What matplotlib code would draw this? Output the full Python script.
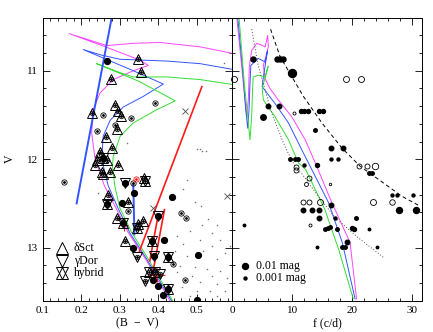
import matplotlib.pyplot as plt
from matplotlib.ticker import MultipleLocator

plt.rcParams["font.family"] = ["Liberation Serif", "DejaVu Serif"]
plt.rcParams["font.size"] = 8

# ---- left panel: colour-magnitude diagram ----
dsct_bv = [0.347, 0.355, 0.277, 0.288, 0.229, 0.296, 0.303, 0.292, 0.264, 0.279, 0.249, 0.266,
           0.242, 0.296, 0.236, 0.253, 0.257, 0.275, 0.363, 0.270, 0.322, 0.292, 0.361, 0.348, 0.314]
dsct_v = [10.87, 11.01, 11.09, 11.39, 11.48, 11.46, 11.51, 11.66, 11.75, 11.87, 11.92, 12.01,
          12.01, 12.07, 12.06, 12.14, 12.17, 12.15, 12.21, 12.40, 12.48, 12.66, 12.70, 12.73, 12.93]

gdor_bv = [0.314, 0.400, 0.344, 0.390, 0.366, 0.405]
gdor_v = [12.27, 12.64, 13.11, 13.09, 13.38, 13.30]
gdor_filled = [True, True, False, True, False, False]

hyb_bv = [0.256, 0.366, 0.266, 0.309, 0.383, 0.426, 0.377, 0.392, 0.426, 0.345]
hyb_v = [11.99, 12.25, 12.51, 12.72, 12.93, 13.11, 13.28, 13.28, 13.47, 12.78]
hyb_filled = [True, False, True, True, True, True, False, False, True, False]

filled_bv = [0.268, 0.337, 0.435, 0.305, 0.335, 0.415, 0.502, 0.387, 0.400, 0.411, 0.500]
filled_v = [10.89, 12.38, 12.43, 12.50, 13.00, 12.91, 13.08, 13.37, 13.43, 13.53, 13.59]

dotc_bv = [0.392, 0.257, 0.328, 0.288, 0.240, 0.156, 0.335, 0.322, 0.458, 0.471, 0.438, 0.470]
dotc_v = [11.37, 11.50, 11.53, 11.61, 11.68, 12.26, 12.27, 12.59, 12.61, 12.67, 13.18, 13.37]

red_bv = [0.342]
red_v = [12.22]

cross_bv = [0.470, 0.385, 0.578]
cross_v = [11.45, 12.55, 12.42]

field_bv = [0.507, 0.524, 0.474, 0.463, 0.496, 0.510, 0.530, 0.513, 0.552, 0.483, 0.539, 0.448,
            0.509, 0.561, 0.465, 0.539, 0.587, 0.444, 0.517, 0.574, 0.474, 0.552, 0.457, 0.496,
            0.526, 0.561, 0.448, 0.487, 0.539, 0.578, 0.509, 0.552, 0.461, 0.500, 0.535, 0.574,
            0.483, 0.552, 0.318, 0.513, 0.500, 0.571, 0.244]
field_v = [11.89, 11.91, 12.24, 12.34, 12.48, 12.53, 12.68, 12.74, 12.74, 12.81, 12.83, 12.87,
           12.91, 12.91, 12.96, 12.98, 12.98, 13.04, 13.04, 13.06, 13.09, 13.13, 13.21, 13.22,
           13.24, 13.26, 13.28, 13.32, 13.32, 13.34, 13.39, 13.41, 13.45, 13.49, 13.49, 13.49,
           13.55, 13.55, 11.82, 11.91, 11.89, 10.91, 12.38]

# isochrones (B-V, V)
iso_m_bv = [0.430, 0.370, 0.322, 0.290, 0.260, 0.236, 0.227, 0.231, 0.249, 0.283, 0.335, 0.374,
            0.353, 0.266, 0.169, 0.266, 0.335, 0.405, 0.509, 0.600]
iso_m_v = [13.60, 13.15, 12.83, 12.55, 12.30, 12.00, 11.70, 11.44, 11.25, 11.10, 11.00, 10.94,
           10.88, 10.735, 10.58, 10.715, 10.69, 10.68, 10.73, 10.81]
iso_b_bv = [0.434, 0.370, 0.327, 0.295, 0.270, 0.253, 0.257, 0.275, 0.309, 0.361, 0.413, 0.330,
            0.270, 0.205, 0.250, 0.300, 0.422, 0.509, 0.600]
iso_b_v = [13.60, 13.13, 12.84, 12.55, 12.30, 12.00, 11.74, 11.56, 11.41, 11.29, 11.15, 10.99,
           10.88, 10.76, 10.82, 10.87, 10.89, 10.92, 10.99]
iso_g_bv = [0.437, 0.370, 0.331, 0.300, 0.287, 0.281, 0.283, 0.301, 0.335, 0.396, 0.444, 0.350,
            0.240, 0.300, 0.335, 0.422, 0.509, 0.600]
iso_g_v = [13.60, 13.10, 12.83, 12.55, 12.30, 12.08, 11.97, 11.74, 11.59, 11.44, 11.34, 11.12,
           10.92, 11.02, 11.07, 11.07, 11.10, 11.16]

# instability strip edges
edge_blue_bv = [0.279, 0.188]
edge_blue_v = [10.40, 12.50]
edge_blue2_bv = [0.335, 0.338]
edge_blue2_v = [12.29, 12.85]
edge_red_bv = [0.513, 0.351]
edge_red_v = [11.18, 13.04]
edge_red2_bv = [0.416, 0.385]
edge_red2_v = [12.57, 13.30]
edge_red3_bv = [0.400, 0.378]
edge_red3_v = [12.62, 13.15]

# error crosses (red)
err_bv = [0.310, 0.396]
err_v = [12.74, 13.31]
err_x = [0.012, 0.022]
err_y = [0.07, 0.08]

# ---- right panel: frequency vs V ----
ff_f = [3.5, 7.43, 8.0, 8.55, 9.95, 5.9, 7.87, 5.1, 11.5, 12.06, 12.6, 14.57, 15.14, 13.85,
        16.53, 18.6, 9.67, 10.5, 11.06, 16.5, 17.75, 12.0, 14.24, 22.9, 23.45, 26.8, 27.6, 30.3,
        27.9, 30.7, 16.53, 11.9, 13.3, 14.57, 14.52, 17.2, 20.7, 15.5, 16.0, 16.4, 17.5, 20.0,
        20.4, 22.9, 14.1, 18.4, 18.9, 19.2, 24.2, 1.96]
ff_v = [10.87, 10.87, 10.87, 10.87, 11.03, 11.40, 11.40, 11.52, 11.46, 11.46, 11.46, 11.46, 11.46,
        11.67, 11.87, 11.87, 12.00, 12.00, 12.00, 12.00, 12.00, 12.07, 12.07, 12.16, 12.16, 12.40,
        12.40, 12.40, 12.57, 12.57, 12.52, 12.57, 12.57, 12.57, 12.67, 12.66, 12.67, 12.79, 12.78,
        12.77, 12.79, 12.78, 12.79, 12.79, 12.99, 12.99, 12.99, 12.94, 12.99, 12.74]
ff_amp = [5.5, 5.5, 5.5, 5.5, 26, 3.9, 3.9, 7.5, 2.6, 2.6, 2.6, 2.6, 2.6, 1.7, 3.9, 3.9, 1.7, 1.7,
          1.7, 1.0, 1.0, 1.0, 2.6, 1.7, 1.7, 1.0, 1.0, 1.0, 10, 10, 3.9, 3.9, 3.9, 3.9, 3.9, 1.0,
          1.7, 1.7, 1.7, 1.7, 1.7, 2.6, 2.6, 0.54, 0.54, 1.7, 1.7, 3.9, 0.54, 0.54]  # mmag

fo_f = [0.3, 19.0, 21.5, 10.34, 10.67, 10.67, 21.2, 22.5, 23.9, 12.3, 12.85, 16.37, 11.9, 12.85,
        14.7, 23.6, 26.7, 13.0]
fo_v = [11.09, 11.09, 11.09, 11.48, 12.09, 12.12, 12.08, 12.08, 12.08, 12.28, 12.21, 12.28, 12.48,
        12.48, 12.48, 12.48, 12.48, 12.74]
fo_amp = [10, 10, 10, 1.0, 5.5, 5.5, 5.5, 5.5, 13, 2.6, 5.5, 0.54, 5.5, 5.5, 10, 10, 7.5, 1.0]

fr_m_f = [0.74, 1.57, 2.13, 2.41, 2.68, 2.85, 3.24, 4.1, 4.92, 5.5, 5.93, 6.03, 5.2, 5.48, 6.3, 7.7,
          9.95, 12.2, 14.0, 16.65, 19.7, 20.8]
fr_m_v = [10.39, 10.95, 11.33, 11.50, 11.33, 10.95, 10.77, 10.69, 10.71, 10.73, 10.60, 10.73, 10.94,
          11.09, 11.20, 11.33, 11.52, 11.78, 12.06, 12.49, 12.94, 13.58]
fr_b_f = [0.9, 1.68, 2.24, 2.58, 2.8, 2.96, 3.1, 4.35, 5.5, 5.9, 5.2, 5.0, 6.0, 7.15, 9.4, 11.6,
          13.4, 16.1, 18.4, 20.55]
fr_b_v = [10.39, 10.95, 11.44, 11.65, 11.44, 11.14, 10.94, 10.86, 10.90, 10.77, 11.07, 11.18, 11.27,
          11.37, 11.59, 11.89, 12.13, 12.49, 12.94, 13.58]
fr_g_f = [1.12, 2.0, 2.58, 2.96, 3.24, 3.41, 3.5, 4.35, 5.5, 6.0, 5.0, 5.2, 7.15, 9.4, 11.05, 12.3,
          15.5, 17.8, 20.25]
fr_g_v = [10.39, 11.14, 11.52, 11.78, 11.52, 11.18, 11.07, 11.05, 11.07, 10.95, 11.20, 11.33, 11.52,
          11.78, 12.04, 12.12, 12.57, 13.02, 13.58]

dash_f = [6.4, 8.0, 11.9, 15.0, 18.3, 21.4, 24.5, 28.4, 31.4]
dash_v = [10.53, 10.84, 11.29, 11.59, 11.87, 12.08, 12.23, 12.42, 12.53]
dot_f = [3.25, 4.36, 6.6, 8.83, 10.8, 11.6, 14.4, 17.2, 21.1, 25.3]
dot_v = [10.53, 10.95, 11.48, 11.86, 12.12, 12.16, 12.42, 12.66, 12.89, 13.11]

MAG = "#ff44ff"
BLU = "#3355ff"
GRN = "#33dd33"
RED = "#ff1a1a"


def amp_to_ms(a):
    return 3.0 * a ** 0.3 / 1.389


def dotted_circle(ax, x, y, ms=3.8, color="k"):
    ax.plot(x, y, "o", ms=ms, mfc="none", mec=color, mew=0.6, ls="none")
    ax.plot(x, y, "o", ms=1.0, mfc=color, mec=color, ls="none")


def style(ax):
    ax.tick_params(which="both", direction="in", top=True, right=True, labelsize=8)
    ax.tick_params(which="major", length=5, width=0.6)
    ax.tick_params(which="minor", length=2.5, width=0.6)
    for s in ax.spines.values():
        s.set_linewidth(0.7)


fig = plt.figure(figsize=(4.33, 3.32), dpi=100)
ax1 = fig.add_axes([0.0986, 0.0943, 0.4379, 0.8524])
ax2 = fig.add_axes([0.5365, 0.0943, 0.4388, 0.8524])

# left panel
ax1.plot(field_bv, field_v, "o", ms=1.1, color="0.45", mec="none", ls="none")
ax1.plot(iso_m_bv, iso_m_v, color=MAG, lw=0.7)
ax1.plot(iso_b_bv, iso_b_v, color=BLU, lw=0.7)
ax1.plot(iso_g_bv, iso_g_v, color=GRN, lw=0.7)
ax1.plot(edge_blue_bv, edge_blue_v, color=BLU, lw=1.4)
ax1.plot(edge_blue2_bv, edge_blue2_v, color=BLU, lw=1.4)
ax1.plot(edge_red_bv, edge_red_v, color=RED, lw=1.2)
ax1.plot(edge_red2_bv, edge_red2_v, color=RED, lw=1.2)
ax1.plot(edge_red3_bv, edge_red3_v, color=RED, lw=1.2)
ax1.errorbar(err_bv, err_v, xerr=err_x, yerr=err_y, fmt="none", ecolor=RED, elinewidth=0.8,
             capsize=0)

dotted_circle(ax1, dotc_bv, dotc_v)
dotted_circle(ax1, dsct_bv, dsct_v, ms=3.2)
dotted_circle(ax1, red_bv, red_v, color=RED)
ax1.plot(filled_bv, filled_v, "o", ms=4.2, color="k", ls="none")
for b, v, f in zip(gdor_bv + hyb_bv, gdor_v + hyb_v, gdor_filled + hyb_filled):
    if f:
        ax1.plot(b, v, "o", ms=4.2, color="k")
    else:
        dotted_circle(ax1, b, v, ms=3.2)
ax1.plot(cross_bv, cross_v, "x", ms=4, mew=0.6, color="0.3", ls="none")
ax1.plot(dsct_bv, dsct_v, "^", ms=7, mfc="none", mec="k", mew=0.7, ls="none")
ax1.plot(gdor_bv, gdor_v, "v", ms=7, mfc="none", mec="k", mew=0.7, ls="none")
ax1.plot(hyb_bv, hyb_v, "^", ms=7, mfc="none", mec="k", mew=0.7, ls="none")
ax1.plot(hyb_bv, hyb_v, "v", ms=7, mfc="none", mec="k", mew=0.7, ls="none")

# legend of left panel
tr = ax1.transAxes
ax1.plot([0.10], [0.185], "^", ms=8, mfc="none", mec="k", mew=0.7, transform=tr)
ax1.plot([0.10], [0.140], "v", ms=8, mfc="none", mec="k", mew=0.7, transform=tr)
ax1.plot([0.10], [0.097], "^", ms=8, mfc="none", mec="k", mew=0.7, transform=tr)
ax1.plot([0.10], [0.097], "v", ms=8, mfc="none", mec="k", mew=0.7, transform=tr)
ax1.text(0.165, 0.185, "δSct", transform=tr, va="center", fontsize=8.5)
ax1.text(0.165, 0.140, "γDor", transform=tr, va="center", fontsize=8.5)
ax1.text(0.165, 0.097, "hybrid", transform=tr, va="center", fontsize=8.5)

ax1.set_xlim(0.1, 0.592)
ax1.set_ylim(13.6, 10.4)
ax1.xaxis.set_major_locator(MultipleLocator(0.1))
ax1.xaxis.set_minor_locator(MultipleLocator(0.02))
ax1.yaxis.set_major_locator(MultipleLocator(1))
ax1.yaxis.set_minor_locator(MultipleLocator(0.2))
ax1.set_xticks([0.1, 0.2, 0.3, 0.4, 0.5])
ax1.set_xticklabels(["0.1", "0.2", "0.3", "0.4", "0.5"])
ax1.set_xlabel("(B  \u2212  V)", fontsize=8.5, labelpad=2)
ax1.set_ylabel("V", fontsize=8.5, labelpad=8)
style(ax1)

# right panel
ax2.plot(fr_m_f, fr_m_v, color=MAG, lw=0.7)
ax2.plot(fr_b_f, fr_b_v, color=BLU, lw=0.7)
ax2.plot(fr_g_f, fr_g_v, color=GRN, lw=0.7)
ax2.plot(dash_f, dash_v, color="k", lw=0.7, dashes=(4, 3))
ax2.plot(dot_f, dot_v, color="0.3", lw=0.7, ls=(0, (1, 2)))
for f, v, a in zip(ff_f, ff_v, ff_amp):
    ax2.plot(f, v, "o", ms=amp_to_ms(a), color="k", mec="k")
for f, v, a in zip(fo_f, fo_v, fo_amp):
    ax2.plot(f, v, "o", ms=amp_to_ms(a), mfc="none", mec="k", mew=0.6, clip_on=False)

tr2 = ax2.transAxes
ax2.plot([0.067], [0.123], "o", ms=amp_to_ms(10), color="k", transform=tr2)
ax2.plot([0.067], [0.079], "o", ms=amp_to_ms(1), color="k", transform=tr2)
ax2.text(0.125, 0.123, "0.01 mag", transform=tr2, va="center", fontsize=8.5)
ax2.text(0.125, 0.079, "0.001 mag", transform=tr2, va="center", fontsize=8.5)

ax2.set_xlim(0, 31.8)
ax2.set_ylim(13.6, 10.4)
ax2.xaxis.set_major_locator(MultipleLocator(10))
ax2.xaxis.set_minor_locator(MultipleLocator(2))
ax2.yaxis.set_major_locator(MultipleLocator(1))
ax2.yaxis.set_minor_locator(MultipleLocator(0.2))
ax2.set_yticklabels([])
ax2.set_xlabel("f (c/d)", fontsize=8.5, labelpad=2)
style(ax2)

fig.savefig("out.png", dpi=100)
